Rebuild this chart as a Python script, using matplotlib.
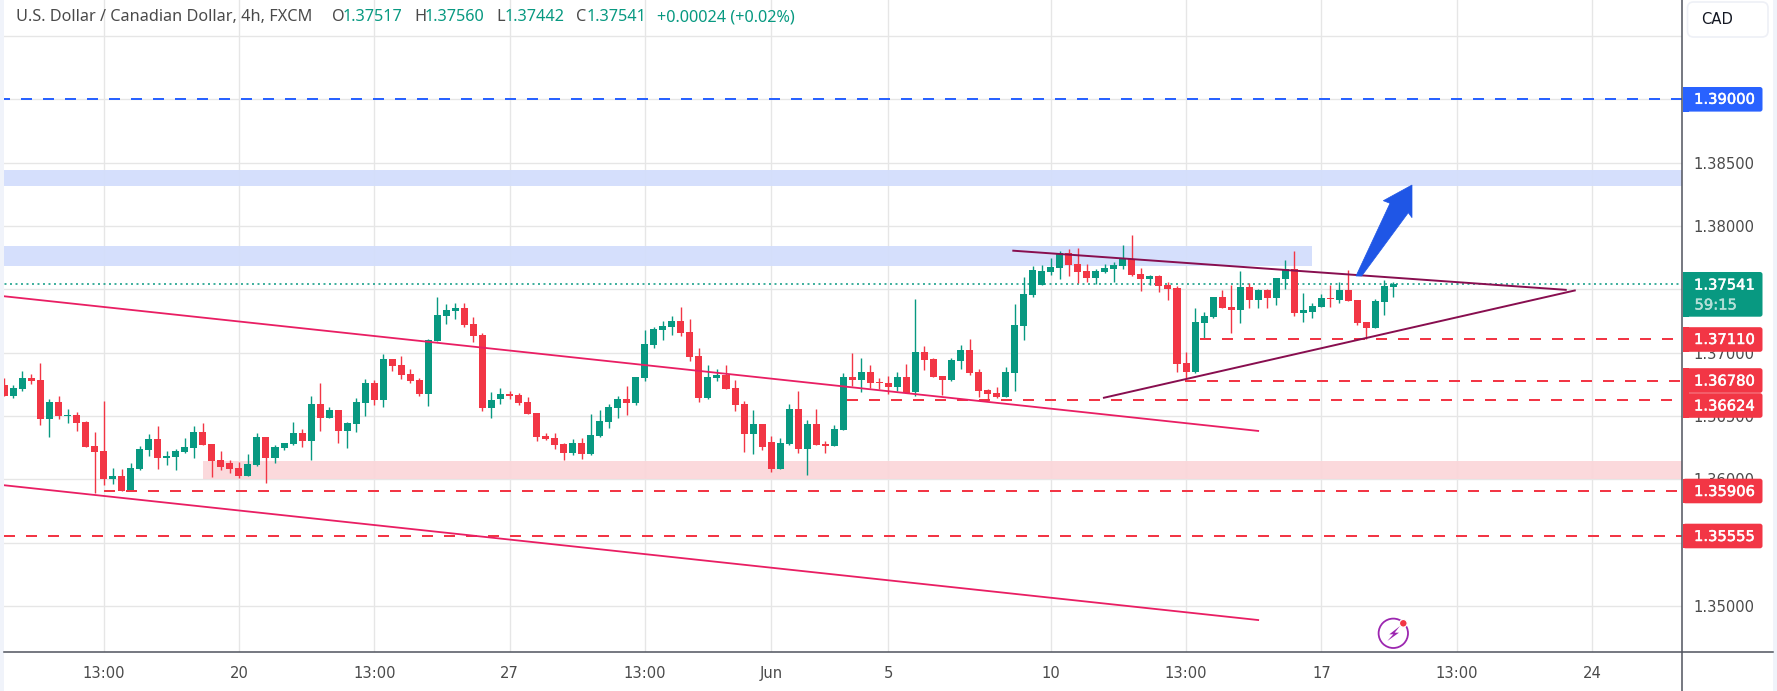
"""USD/CAD 4h candlestick chart with hand drawn levels, rebuilt with matplotlib."""

import matplotlib
matplotlib.use("Agg")
import matplotlib.pyplot as plt
import matplotlib.patheffects as pe
from matplotlib.patches import Circle, FancyBboxPatch, Polygon, Rectangle

# bars, left to right
opens = [
    1.36742, 1.36655, 1.36711, 1.36797, 1.36782, 1.36474, 1.36608, 1.36497, 1.36505, 1.36450,
    1.36261, 1.36221, 1.36000, 1.36024, 1.35905, 1.36079, 1.36229, 1.36316, 1.36166, 1.36174,
    1.36213, 1.36245, 1.36371, 1.36276, 1.36150, 1.36126, 1.36087, 1.36024, 1.36111, 1.36332,
    1.36166, 1.36245, 1.36276, 1.36363, 1.36300, 1.36592, 1.36482, 1.36545, 1.36379, 1.36434,
    1.36600, 1.36758, 1.36624, 1.36947, 1.36900, 1.36829, 1.36782, 1.36671, 1.37089, 1.37287,
    1.37326, 1.37350, 1.37224, 1.37137, 1.36561, 1.36632, 1.36671, 1.36663, 1.36608, 1.36521,
    1.36339, 1.36324, 1.36276, 1.36205, 1.36284, 1.36197, 1.36339, 1.36450, 1.36561, 1.36632,
    1.36600, 1.36797, 1.37058, 1.37176, 1.37200, 1.37247, 1.37161, 1.36971, 1.36639, 1.36797,
    1.36821, 1.36718, 1.36592, 1.36355, 1.36434, 1.36292, 1.36079, 1.36276, 1.36553, 1.36237,
    1.36434, 1.36276, 1.36261, 1.36387, 1.36805, 1.36782, 1.36845, 1.36766, 1.36758, 1.36726,
    1.36805, 1.36687, 1.37003, 1.36947, 1.36813, 1.36782, 1.36932, 1.37018, 1.36845, 1.36703,
    1.36679, 1.36647, 1.36837, 1.37208, 1.37453, 1.37532, 1.37634, 1.37666, 1.37784, 1.37697,
    1.37642, 1.37587, 1.37634, 1.37658, 1.37682, 1.37737, 1.37618, 1.37579, 1.37603, 1.37532,
    1.37508, 1.36916, 1.36845, 1.37232, 1.37279, 1.37437, 1.37358, 1.37334, 1.37516, 1.37413,
    1.37492, 1.37429, 1.37579, 1.37658, 1.37311, 1.37318, 1.37358, 1.37429, 1.37413, 1.37492,
    1.37413, 1.37239, 1.37192, 1.37397, 1.37517,
]
highs = [
    1.36803, 1.36742, 1.36853, 1.36829, 1.36916, 1.36632, 1.36655, 1.36553, 1.36529, 1.36458,
    1.36371, 1.36616, 1.36087, 1.36079, 1.36126, 1.36261, 1.36355, 1.36418, 1.36221, 1.36237,
    1.36324, 1.36418, 1.36442, 1.36276, 1.36221, 1.36150, 1.36134, 1.36197, 1.36363, 1.36332,
    1.36268, 1.36284, 1.36450, 1.36395, 1.36655, 1.36758, 1.36568, 1.36545, 1.36450, 1.36639,
    1.36789, 1.36782, 1.36987, 1.36947, 1.36971, 1.36868, 1.36797, 1.37105, 1.37437, 1.37382,
    1.37389, 1.37389, 1.37279, 1.37153, 1.36687, 1.36718, 1.36695, 1.36679, 1.36647, 1.36521,
    1.36363, 1.36363, 1.36284, 1.36316, 1.36324, 1.36513, 1.36545, 1.36592, 1.36655, 1.36734,
    1.36805, 1.37176, 1.37200, 1.37247, 1.37287, 1.37358, 1.37263, 1.37034, 1.36900, 1.36868,
    1.36900, 1.36782, 1.36616, 1.36545, 1.36434, 1.36339, 1.36324, 1.36592, 1.36695, 1.36466,
    1.36553, 1.36300, 1.36426, 1.36837, 1.36995, 1.36955, 1.36900, 1.36797, 1.36813, 1.36845,
    1.36908, 1.37421, 1.37050, 1.36955, 1.36813, 1.36955, 1.37058, 1.37105, 1.36868, 1.36711,
    1.36726, 1.36884, 1.37382, 1.37595, 1.37682, 1.37689, 1.37745, 1.37800, 1.37816, 1.37824,
    1.37697, 1.37658, 1.37697, 1.37713, 1.37847, 1.37926, 1.37666, 1.37611, 1.37611, 1.37555,
    1.37524, 1.37003, 1.37350, 1.37318, 1.37437, 1.37492, 1.37532, 1.37642, 1.37547, 1.37500,
    1.37500, 1.37587, 1.37729, 1.37800, 1.37468, 1.37389, 1.37461, 1.37532, 1.37555, 1.37650,
    1.37413, 1.37239, 1.37421, 1.37571, 1.37560,
]
lows = [
    1.36655, 1.36639, 1.36695, 1.36750, 1.36426, 1.36332, 1.36474, 1.36442, 1.36379, 1.36253,
    1.35889, 1.35953, 1.35961, 1.35905, 1.35905, 1.36071, 1.36182, 1.36079, 1.36111, 1.36071,
    1.36205, 1.36166, 1.36268, 1.36016, 1.36071, 1.36047, 1.36008, 1.36024, 1.36103, 1.35968,
    1.36126, 1.36229, 1.36268, 1.36253, 1.36150, 1.36379, 1.36482, 1.36284, 1.36245, 1.36371,
    1.36497, 1.36584, 1.36568, 1.36853, 1.36789, 1.36758, 1.36655, 1.36576, 1.37089, 1.37224,
    1.37263, 1.37200, 1.37082, 1.36537, 1.36482, 1.36592, 1.36632, 1.36584, 1.36513, 1.36300,
    1.36308, 1.36237, 1.36150, 1.36189, 1.36158, 1.36189, 1.36332, 1.36403, 1.36482, 1.36505,
    1.36584, 1.36774, 1.37034, 1.37097, 1.37137, 1.37129, 1.36932, 1.36608, 1.36632, 1.36774,
    1.36711, 1.36537, 1.36213, 1.36197, 1.36229, 1.36055, 1.36079, 1.36268, 1.36205, 1.36032,
    1.36268, 1.36205, 1.36261, 1.36387, 1.36734, 1.36687, 1.36718, 1.36711, 1.36671, 1.36695,
    1.36679, 1.36655, 1.36861, 1.36805, 1.36663, 1.36774, 1.36868, 1.36821, 1.36647, 1.36624,
    1.36639, 1.36647, 1.36695, 1.37097, 1.37437, 1.37532, 1.37611, 1.37579, 1.37603, 1.37547,
    1.37555, 1.37539, 1.37626, 1.37555, 1.37658, 1.37603, 1.37484, 1.37532, 1.37476, 1.37413,
    1.36845, 1.36797, 1.36837, 1.37113, 1.37271, 1.37350, 1.37153, 1.37232, 1.37350, 1.37350,
    1.37350, 1.37374, 1.37500, 1.37287, 1.37239, 1.37271, 1.37358, 1.37358, 1.37389, 1.37405,
    1.37216, 1.37105, 1.37192, 1.37295, 1.37442,
]
closes = [
    1.36655, 1.36718, 1.36797, 1.36774, 1.36474, 1.36608, 1.36497, 1.36505, 1.36442, 1.36253,
    1.36213, 1.36000, 1.36024, 1.35905, 1.36087, 1.36237, 1.36316, 1.36166, 1.36182, 1.36221,
    1.36253, 1.36371, 1.36268, 1.36142, 1.36095, 1.36079, 1.36024, 1.36118, 1.36332, 1.36166,
    1.36253, 1.36284, 1.36363, 1.36300, 1.36592, 1.36482, 1.36545, 1.36379, 1.36442, 1.36608,
    1.36758, 1.36624, 1.36947, 1.36892, 1.36821, 1.36774, 1.36671, 1.37097, 1.37295, 1.37334,
    1.37350, 1.37216, 1.37129, 1.36561, 1.36624, 1.36671, 1.36655, 1.36600, 1.36513, 1.36332,
    1.36316, 1.36268, 1.36205, 1.36284, 1.36197, 1.36347, 1.36458, 1.36568, 1.36632, 1.36600,
    1.36805, 1.37066, 1.37184, 1.37208, 1.37247, 1.37153, 1.36963, 1.36639, 1.36805, 1.36821,
    1.36711, 1.36584, 1.36355, 1.36434, 1.36253, 1.36079, 1.36284, 1.36553, 1.36237, 1.36434,
    1.36268, 1.36261, 1.36395, 1.36805, 1.36782, 1.36845, 1.36758, 1.36758, 1.36726, 1.36805,
    1.36679, 1.37003, 1.36939, 1.36805, 1.36782, 1.36939, 1.37018, 1.36837, 1.36695, 1.36671,
    1.36647, 1.36845, 1.37216, 1.37461, 1.37650, 1.37642, 1.37674, 1.37789, 1.37689, 1.37634,
    1.37587, 1.37642, 1.37666, 1.37689, 1.37737, 1.37611, 1.37579, 1.37603, 1.37524, 1.37500,
    1.36908, 1.36845, 1.37239, 1.37287, 1.37437, 1.37350, 1.37334, 1.37516, 1.37413, 1.37492,
    1.37429, 1.37587, 1.37658, 1.37311, 1.37334, 1.37366, 1.37429, 1.37421, 1.37492, 1.37405,
    1.37232, 1.37192, 1.37405, 1.37524, 1.37541,
]

price_ticks = [1.395, 1.39, 1.385, 1.38, 1.375, 1.37, 1.365, 1.36, 1.355, 1.35]
axis_prices = [1.385, 1.38, 1.37, 1.365, 1.36, 1.35]
time_ticks = [11, 26, 41, 56, 71, 85, 98, 116, 131, 146, 161, 176]
time_labels = ["13:00", "20", "13:00", "27", "13:00", "Jun", "5", "10", "13:00", "17", "13:00", "24"]

last_price = 1.37541
blue_level = 1.39
red_levels = [1.3711, 1.3678, 1.36624, 1.35906, 1.35555]
red_level_starts = [132.5, 130.9, 93.4, 11.0, 0.0]

# (x0, x1, price_low, price_high)
zones = [
    (-1, 187, 1.38318, 1.38442, "#d3defc"),
    (-1, 145, 1.37684, 1.37842, "#d3defc"),
    (22, 187, 1.36000, 1.36143, "#fbd7da"),
]
# ((bar, price), (bar, price))
pink_lines = [((0, 1.37445), (139, 1.36382)), ((0, 1.35953), (139, 1.34889))]
purple_lines = [((111.85, 1.37805), (173.1, 1.37496)), ((121.9, 1.36644), (174.1, 1.37491))]

GREEN = "#089981"
RED = "#f23645"
BLUE = "#2962ff"
GRID = "#e6e6e6"
AXIS = "#50535e"
TEXT = "#4a4a4a"
W, H = 1777, 691
PX_LEFT, PX_RIGHT, PX_BOTTOM = 4, 1682, 652
BAR0, PITCH = 4.4, 9.02   # pixel of bar 0, pixels per bar
PRICE_PER_PX = 0.005 / 63.33
FONT = 10.6


def main():
    plt.rcParams["font.family"] = ["DejaVu Sans"]
    fig = plt.figure(figsize=(W / 100, H / 100), dpi=100)
    ax = fig.add_axes([PX_LEFT / W, (H - PX_BOTTOM) / H, (PX_RIGHT - PX_LEFT) / W, PX_BOTTOM / H])
    ax.set_xlim((PX_LEFT - BAR0) / PITCH, (PX_RIGHT - BAR0) / PITCH)
    ax.set_ylim(1.38 - (PX_BOTTOM - 226) * PRICE_PER_PX, 1.38 + 226 * PRICE_PER_PX)
    for s in ax.spines.values():
        s.set_visible(False)

    ax.set_yticks(price_ticks)
    ax.set_yticklabels(["" if p not in axis_prices else f"{p:.5f}" for p in price_ticks])
    ax.yaxis.tick_right()
    ax.set_xticks(time_ticks)
    ax.set_xticklabels(time_labels)
    ax.tick_params(axis="both", length=0, labelsize=FONT, labelcolor=TEXT)
    ax.tick_params(axis="y", pad=8.5)
    ax.tick_params(axis="x", pad=10)
    ax.grid(color=GRID, lw=1.0)
    ax.set_axisbelow(True)

    for x0, x1, low, high, color in zones:
        ax.add_patch(Rectangle((x0, low), x1 - x0, high - low, fc=color, ec="none", alpha=0.95, zorder=1))

    # candles
    for i, (o, hi, lo, c) in enumerate(zip(opens, highs, lows, closes)):
        color = GREEN if c >= o else RED
        ax.vlines(i, lo, hi, color=color, lw=1.0, zorder=3)
        ax.bar(i, abs(c - o), bottom=min(o, c), width=0.78, color=color, lw=0, zorder=3)

    # levels
    dash = (0, (5.5, 5.5))
    xmax = ax.get_xlim()[1]
    ax.plot([-1, xmax], [blue_level, blue_level], color=BLUE, lw=1.44, ls=dash, zorder=4)
    for y, start in zip(red_levels, red_level_starts):
        ax.plot([start, xmax], [y, y], color=RED, lw=1.44, ls=dash, zorder=4)
    ax.plot([-1, xmax], [last_price, last_price], color=GREEN, lw=1.1, ls=(0, (1.3, 2.3)), zorder=2)

    for (a, b) in pink_lines:
        ax.plot([a[0], b[0]], [a[1], b[1]], color="#e91e63", lw=1.3, zorder=5)
    for (a, b) in purple_lines:
        ax.plot([a[0], b[0]], [a[1], b[1]], color="#880e4f", lw=1.4, zorder=5)

    # pixel overlay for the TradingView furniture
    ui = fig.add_axes([0, 0, 1, 1], zorder=5)
    ui.set_xlim(0, W)
    ui.set_ylim(H, 0)
    ui.axis("off")
    ui.patch.set_alpha(0)

    ui.add_patch(Rectangle((0, 0), PX_LEFT, H, fc="#f0f3fa", ec="none"))
    ui.add_patch(Rectangle((1773, 0), 4, H, fc="#f0f3fa", ec="none"))
    ui.plot([PX_LEFT, 1773], [652, 652], color=AXIS, lw=1.1)
    ui.plot([1682, 1682], [0, H], color=AXIS, lw=1.1)

    # blue arrow
    ui.add_patch(Polygon([(1412, 185), (1383.3, 200.7), (1390, 203.3), (1356, 276), (1361.7, 276),
                          (1408.3, 212.7), (1412, 217.7)], fc="#1f56e6", ec="#1f56e6", lw=0.5, zorder=6))

    # price labels on the right
    tags = [
        (99.3, 99.3, "1.39000", BLUE),
        (339.5, 339.5, "1.37110", RED),
        (380.5, 381, "1.36780", RED),
        (405.5, 406, "1.36624", RED),
        (491, 491.5, "1.35906", RED),
        (536, 536.5, "1.35555", RED),
    ]
    halo = [pe.withStroke(linewidth=0.35, foreground="white")]
    for yc, yt, label, color in tags:
        draw_tag(ui, yc - 12.3, 24.6, color)
        ui.text(1724.5, yt, label, color="white", fontsize=FONT, ha="center", va="center", zorder=8,
                path_effects=halo)
    draw_tag(ui, 272, 44.7, GREEN)
    ui.text(1724.5, 285, "1.37541", color="white", fontsize=FONT, ha="center", va="center", zorder=8,
            path_effects=halo)
    ui.text(1694.5, 305, "59:15", color="#b5e0d8", fontsize=FONT, ha="left", va="center", zorder=8,
            path_effects=[pe.withStroke(linewidth=0.35, foreground="#b5e0d8")])

    # currency button
    ui.add_patch(FancyBboxPatch((1687.5, 2), 80.5, 35, boxstyle="round,pad=0,rounding_size=6",
                                fc="white", ec="#eef0f6", lw=1.2))
    ui.text(1701, 19, "CAD", color="#131722", fontsize=FONT, ha="left", va="center")

    # header
    hdr = [(16, "U.S. Dollar / Canadian Dollar, 4h, FXCM", TEXT), (332, "O", TEXT), (343, "1.37517", GREEN),
           (414.5, "H", TEXT), (425, "1.37560", GREEN), (496.5, "L", TEXT), (505, "1.37442", GREEN),
           (576, "C", TEXT), (586.5, "1.37541", GREEN), (657, "+0.00024 (+0.02%)", GREEN)]
    for x, s, color in hdr:
        ui.text(x, 17, s, color=color, fontsize=11.7, family="Noto Sans", ha="left", va="center")

    # lightning badge
    ui.add_patch(Circle((1393.3, 633.3), 14.7, fc="none", ec="#9c27b0", lw=1.3))
    bolt = [(300, 138), (268, 163), (280, 163), (262, 183), (297, 158), (284, 158)]
    ui.add_patch(Polygon([(1300 + x / 3, 580 + y / 3) for x, y in bolt], fc="#9c27b0", ec="none"))
    ui.add_patch(Circle((1403.3, 623.3), 3.8, fc=RED, ec="white", lw=0.8))

    fig.savefig("out.png", dpi=100)


def draw_tag(ui, top, height, color):
    ui.add_patch(FancyBboxPatch((1683, top), 79.5, height, boxstyle="round,pad=0,rounding_size=2.5",
                                fc=color, ec="none", zorder=7))
    ui.add_patch(Rectangle((1683, top), 6, height, fc=color, ec="none", zorder=7))


if __name__ == "__main__":
    main()
